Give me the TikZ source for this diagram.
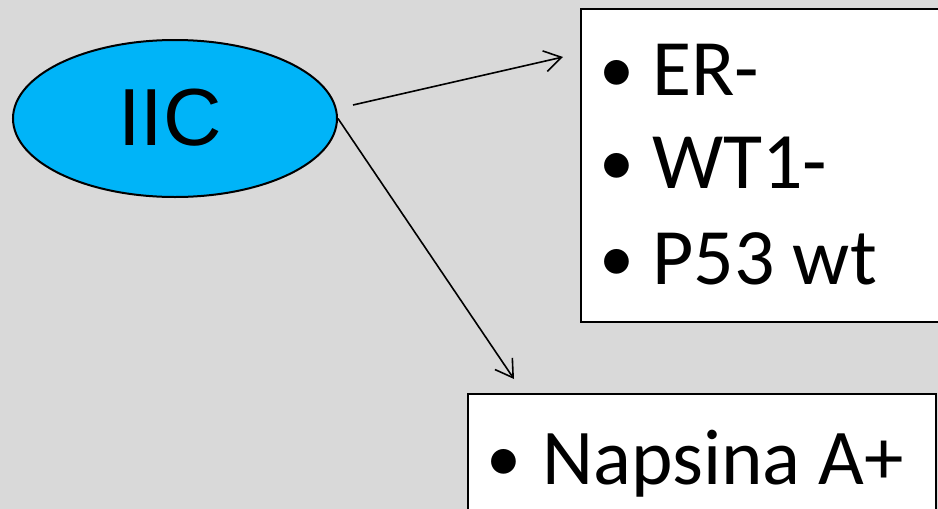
\documentclass[tikz,border=0pt]{standalone}
\usepackage{fontspec}
\setmainfont{Carlito}
\newfontfamily\arialfont{Liberation Sans}
\usetikzlibrary{arrows.meta,shapes.geometric}
\definecolor{bggray}{HTML}{D9D9D9}
\definecolor{skyfill}{HTML}{00B4F8}
\tikzset{
  listbox/.style={draw=black, line width=2pt, fill=white},
  item/.style={anchor=base west, inner sep=0pt, font=\fontsize{80}{96}\selectfont},
  dot/.style={anchor=base west, inner sep=0pt, font=\fontsize{70}{80}\selectfont},
  link/.style={line width=1.6pt, -{Straight Barb[length=17pt,width=21pt,line width=1.6pt]}}
}
\begin{document}
\begin{tikzpicture}[x=1pt,y=-1pt]
  % page area
  \fill[bggray] (0,0) rectangle (938,509);
  \useasboundingbox (0,0) rectangle (938,509);

  % left category
  \node[ellipse, draw=black, line width=2pt, fill=skyfill,
        minimum width=324pt, minimum height=157pt, inner sep=0pt] (iic) at (175,118.5) {};
  \node[font=\arialfont\fontsize{81}{90}\selectfont, inner sep=0pt] (iiclabel) at (170,118) {IIC};

  % upper marker list
  \node[listbox, anchor=north west, minimum width=365pt, minimum height=313pt, inner sep=0pt] (box1) at (580,7.5) {};
  \node[dot] (b1) at (599,92) {•};
  \node[item] (t1) at (652,95) {ER-};
  \node[dot] (b2) at (599,185) {•};
  \node[item] (t2) at (652,188) {WT1-};
  \node[dot] (b3) at (599,281) {•};
  \node[item] (t3) at (652,284) {P53 wt};

  % lower marker list
  \node[listbox, anchor=north west, minimum width=468pt, minimum height=140pt, inner sep=0pt] (box2) at (467,393) {};
  \node[dot] (b4) at (486,481) {•};
  \node[item, font=\fontsize{79}{90}\selectfont] (t4) at (542,484) {Napsina A+};

  % connectors
  \coordinate (s1) at (353,105);
  \coordinate (e1) at (563,57);
  \coordinate (e2) at (514,379);
  \draw[link] (s1) -- (e1);
  \draw[link] (iic.east) -- (e2);
\end{tikzpicture}
\end{document}
